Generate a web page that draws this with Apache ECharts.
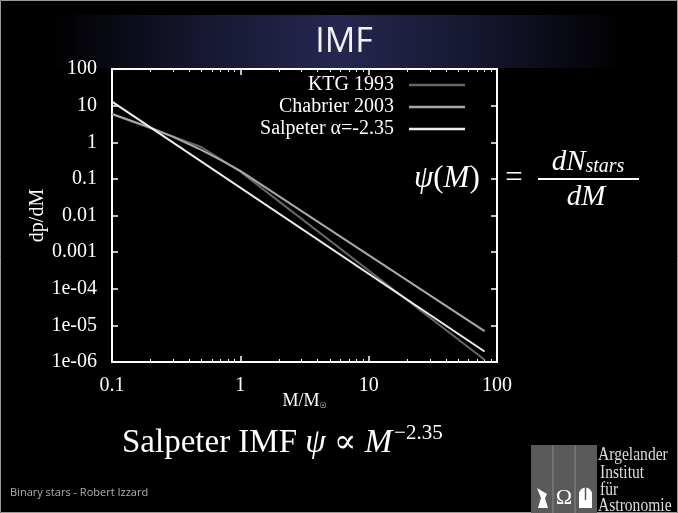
<!DOCTYPE html>
<html>
<head>
<meta charset="utf-8">
<script src="https://cdn.jsdelivr.net/npm/echarts@6/dist/echarts.min.js"></script>
<style>
html, body { margin: 0; padding: 0; background: #000; }
#main { width: 678px; height: 513px; }
</style>
</head>
<body>
<div id="main"></div>
<script>
// IMF curves, [mass in Msun, dp/dM]
var ktg1993 = [[0.1, 5.9], [0.5, 0.73], [1, 0.158], [80, 1.15e-6]];
var chabrier2003 = [[0.1, 5.9], [0.2, 2.5], [0.3, 1.4], [0.5, 0.61], [0.7, 0.33], [1, 0.166], [10, 8.3e-4], [80, 7.0e-6]];
var salpeter = [[0.1, 12.8], [80, 1.93e-6]];

var seriesNames = ['KTG 1993', 'Chabrier 2003', 'Salpeter \u03b1=-2.35'];
var seriesColors = ['#666666', '#a9a9a9', '#eeeeee'];

var xTickLabels = ['0.1', '1', '10', '100'];
var yTickLabels = ['1e-06', '1e-05', '1e-04', '0.001', '0.01', '0.1', '1', '10', '100'];
var xMinorTicks = [0.2, 0.3, 0.4, 0.5, 0.6, 0.7, 0.8, 0.9, 2, 3, 4, 5, 6, 7, 8, 9, 20, 30, 40, 50, 60, 70, 80, 90];

var serif = '"Liberation Serif", "DejaVu Serif", serif';

var chart = echarts.init(document.getElementById('main'));

function xLabel(v) {
	var i = Math.round(Math.log10(v)) + 1;
	return xTickLabels[i] || '';
}
function yLabel(v) {
	var i = Math.round(Math.log10(v)) + 6;
	return yTickLabels[i] || '';
}

var baseX = {
	type: 'log', logBase: 10, min: 0.1, max: 100, interval: 1,
	splitLine: { show: false }
};
var baseY = {
	type: 'log', logBase: 10, min: 1e-6, max: 100, interval: 1,
	splitLine: { show: false }
};

var option = {
	backgroundColor: '#000',
	animation: false,
	grid: {
		left: 112, right: 181, top: 69, bottom: 151,
		show: true, backgroundColor: '#000', borderColor: '#fff', borderWidth: 2
	},
	legend: {
		data: seriesNames,
		icon: 'rect',
		orient: 'vertical',
		right: 208,
		top: 69,
		align: 'right',
		itemWidth: 56,
		itemHeight: 2.5,
		itemGap: 0,
		textStyle: { color: '#fff', fontFamily: serif, fontSize: 20, lineHeight: 22, padding: [0, 10, 0, 0] }
	},
	xAxis: [
		Object.assign({}, baseX, {
			position: 'bottom',
			name: '{m|M/M}{s|\u2609}',
			nameLocation: 'middle',
			nameGap: 30,
			nameMoveOverlap: false,
			nameTextStyle: {
				rich: {
					m: { color: '#fff', fontFamily: serif, fontSize: 18 },
					s: { color: '#fff', fontFamily: 'DejaVu Sans', fontSize: 8, padding: [10, 0, 0, 0] }
				}
			},
			axisLine: { show: false },
			axisTick: { inside: true, length: 6, lineStyle: { color: '#fff', width: 1.5 } },
			axisLabel: { color: '#fff', fontFamily: serif, fontSize: 20, margin: 14, formatter: xLabel }
		}),
		Object.assign({}, baseX, {
			position: 'bottom',
			axisLine: { show: false },
			axisLabel: { show: false },
			axisTick: { inside: true, length: 3, customValues: xMinorTicks, lineStyle: { color: '#fff', width: 1 } }
		}),
		Object.assign({}, baseX, {
			position: 'top',
			axisLine: { show: false },
			axisLabel: { show: false },
			axisTick: { inside: true, length: 6, lineStyle: { color: '#fff', width: 1.5 } }
		}),
		Object.assign({}, baseX, {
			position: 'top',
			axisLine: { show: false },
			axisLabel: { show: false },
			axisTick: { inside: true, length: 3, customValues: xMinorTicks, lineStyle: { color: '#fff', width: 1 } }
		})
	],
	yAxis: [
		Object.assign({}, baseY, {
			position: 'left',
			name: 'dp/dM',
			nameLocation: 'middle',
			nameGap: 64,
			nameRotate: 90,
			nameMoveOverlap: false,
			nameTextStyle: { color: '#fff', fontFamily: serif, fontSize: 20 },
			axisLine: { show: false },
			axisTick: { inside: true, length: 6, lineStyle: { color: '#fff', width: 1.5 } },
			axisLabel: { color: '#fff', fontFamily: serif, fontSize: 20, margin: 15, formatter: yLabel }
		}),
		Object.assign({}, baseY, {
			position: 'right',
			axisLine: { show: false },
			axisLabel: { show: false },
			axisTick: { inside: true, length: 6, lineStyle: { color: '#fff', width: 1.5 } }
		})
	],
	series: [
		{ name: seriesNames[0], type: 'line', data: ktg1993, symbol: 'none', lineStyle: { color: seriesColors[0], width: 2 }, itemStyle: { color: seriesColors[0] } },
		{ name: seriesNames[1], type: 'line', data: chabrier2003, symbol: 'none', lineStyle: { color: seriesColors[1], width: 2 }, itemStyle: { color: seriesColors[1] } },
		{ name: seriesNames[2], type: 'line', data: salpeter, symbol: 'none', lineStyle: { color: seriesColors[2], width: 2 }, itemStyle: { color: seriesColors[2] } }
	],
	graphic: [
		// slide frame
		{ type: 'rect', z: -20, silent: true, shape: { x: 0.5, y: 0.5, width: 677, height: 512 }, style: { fill: null, stroke: '#9a9a9a', lineWidth: 1 } },
		// title band
		{
			type: 'rect', z: -10, silent: true,
			shape: { x: 50, y: 15, width: 575, height: 53 },
			style: {
				fill: new echarts.graphic.LinearGradient(0, 0, 1, 0, [
					{ offset: 0, color: '#000000' },
					{ offset: 0.25, color: '#15162e' },
					{ offset: 0.5, color: '#262750' },
					{ offset: 0.75, color: '#15162e' },
					{ offset: 1, color: '#000000' }
				])
			}
		},
		{
			type: 'text', z: 5, x: 344, y: 42, silent: true,
			style: {
				text: 'IMF', fill: '#f2f2f2', font: '34px "Open Sans", "Noto Sans", sans-serif',
				align: 'center', verticalAlign: 'middle',
				shadowColor: 'rgba(0,0,0,0.9)', shadowBlur: 3, shadowOffsetX: 2, shadowOffsetY: 2
			}
		},
		// psi(M) = dN_stars / dM
		{
			type: 'text', x: 414, y: 179, silent: true,
			style: {
				text: '{i|\u03c8}{n|(}{i|M}{n|)}', verticalAlign: 'middle',
				rich: {
					i: { fill: '#fff', font: 'italic 31px ' + serif },
					n: { fill: '#fff', font: '31px ' + serif }
				}
			}
		},
		{ type: 'text', x: 514, y: 179, silent: true, style: { text: '=', fill: '#fff', font: '31px ' + serif, align: 'center', verticalAlign: 'middle' } },
		{
			type: 'text', x: 588, y: 162, silent: true,
			style: {
				text: '{i|dN}{s|stars}', align: 'center', verticalAlign: 'middle',
				rich: {
					i: { fill: '#fff', font: 'italic 29px ' + serif },
					s: { fill: '#fff', font: 'italic 20px ' + serif, padding: [10, 0, 0, 0] }
				}
			}
		},
		{ type: 'line', silent: true, shape: { x1: 538, y1: 179, x2: 639, y2: 179 }, style: { stroke: '#fff', lineWidth: 2 } },
		{ type: 'text', x: 586, y: 197, silent: true, style: { text: 'dM', fill: '#fff', font: 'italic 29px ' + serif, align: 'center', verticalAlign: 'middle' } },
		// Salpeter IMF psi ~ M^-2.35
		{
			type: 'text', x: 122, y: 443, silent: true,
			style: {
				text: '{n|Salpeter IMF }{i|\u03c8}{n| \u221d }{i|M}{p|\u22122.35}', verticalAlign: 'middle',
				rich: {
					n: { fill: '#fff', font: '33px ' + serif },
					i: { fill: '#fff', font: 'italic 33px ' + serif },
					p: { fill: '#fff', font: '21px ' + serif, padding: [0, 0, 20, 2] }
				}
			}
		},
		// footer
		{ type: 'text', x: 10, y: 493, silent: true, style: { text: 'Binary stars - Robert Izzard', fill: '#b0b0b0', font: '11px "Open Sans", "Noto Sans", sans-serif', verticalAlign: 'middle' } },
		// institute logo
		{ type: 'rect', silent: true, shape: { x: 531, y: 445, width: 66, height: 68 }, style: { fill: '#5a5a5a' } },
		{ type: 'line', silent: true, shape: { x1: 553, y1: 445, x2: 553, y2: 513 }, style: { stroke: '#8a8a8a', lineWidth: 1 } },
		{ type: 'line', silent: true, shape: { x1: 575, y1: 445, x2: 575, y2: 513 }, style: { stroke: '#8a8a8a', lineWidth: 1 } },
		{ type: 'polygon', silent: true, shape: { points: [[537, 488], [547, 494], [549, 490], [545, 498], [548, 508], [538, 508], [541, 498]] }, style: { fill: '#fff' } },
		{ type: 'text', x: 564, y: 498, silent: true, style: { text: '\u03a9', fill: '#fff', font: '22px ' + serif, align: 'center', verticalAlign: 'middle' } },
		{ type: 'rect', silent: true, shape: { x: 579, y: 494, width: 13, height: 14 }, style: { fill: '#fff' } },
		{ type: 'sector', silent: true, shape: { cx: 585.5, cy: 494, r: 6.5, startAngle: Math.PI, endAngle: 2 * Math.PI }, style: { fill: '#fff' } },
		{ type: 'line', silent: true, shape: { x1: 585.5, y1: 487, x2: 585.5, y2: 500 }, style: { stroke: '#5a5a5a', lineWidth: 1.5 } },
		{ type: 'text', x: 598, y: 455, scaleX: 0.82, silent: true, style: { text: 'Argelander', fill: '#dcdcdc', font: '19px ' + serif, verticalAlign: 'middle' } },
		{ type: 'text', x: 600, y: 473, scaleX: 0.82, silent: true, style: { text: 'Institut', fill: '#dcdcdc', font: '19px ' + serif, verticalAlign: 'middle' } },
		{ type: 'text', x: 600, y: 490, scaleX: 0.82, silent: true, style: { text: 'f\u00fcr', fill: '#dcdcdc', font: '19px ' + serif, verticalAlign: 'middle' } },
		{ type: 'text', x: 598, y: 506, scaleX: 0.82, silent: true, style: { text: 'Astronomie', fill: '#dcdcdc', font: '19px ' + serif, verticalAlign: 'middle' } }
	]
};

chart.setOption(option);
window.addEventListener('resize', () => chart.resize(), false);
</script>
</body>
</html>
